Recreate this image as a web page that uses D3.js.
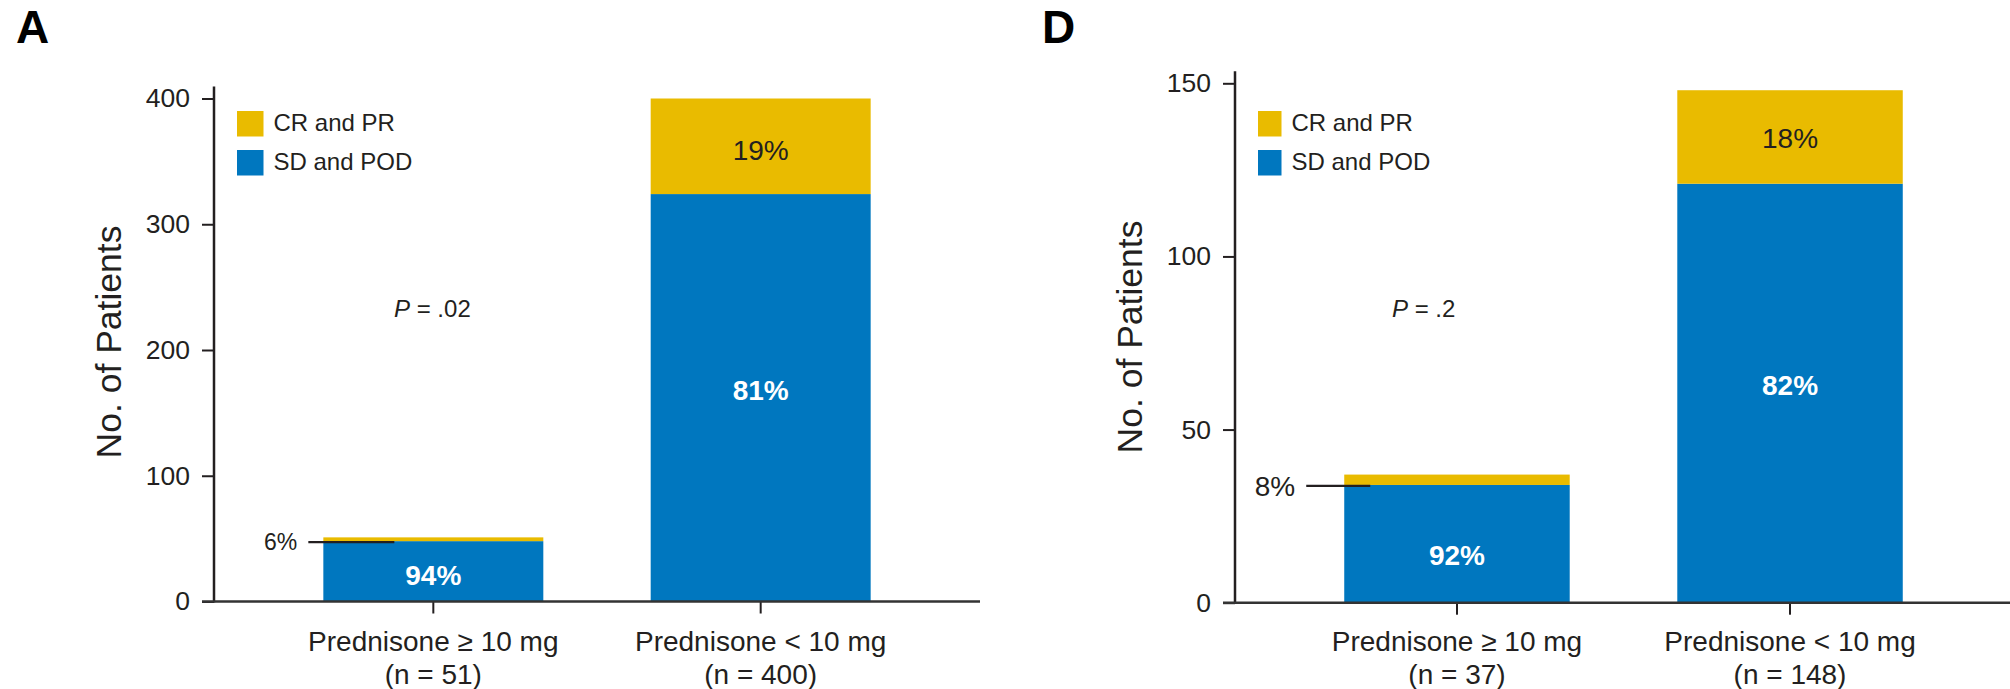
<!DOCTYPE html>
<html>
<head>
<meta charset="utf-8">
<script src="https://cdn.jsdelivr.net/npm/d3@7"></script>
<style>
  body { margin: 0; background: #fff; }
  svg text { font-family: "Liberation Sans", Arial, Helvetica, sans-serif; fill: #231f20; }
</style>
</head>
<body>
<div id="chart"></div>
<script>

// Series names and colors (legend order)
var seriesNames = ["CR and PR", "SD and POD"];
var seriesColors = ["#e9bb00", "#0077bf"];

// Panel A data
var categoriesA = ["Prednisone ≥ 10 mg", "Prednisone < 10 mg"];
var nLabelsA = ["(n = 51)", "(n = 400)"];
var sdpodA = [48, 324];
var crprA = [3, 76];
var pctSdpodA = ["94%", "81%"];
var pctCrprA = ["6%", "19%"];
var ticksA = [0, 100, 200, 300, 400];

// Panel D data
var categoriesD = ["Prednisone ≥ 10 mg", "Prednisone < 10 mg"];
var nLabelsD = ["(n = 37)", "(n = 148)"];
var sdpodD = [34, 121];
var crprD = [3, 27];
var pctSdpodD = ["92%", "82%"];
var pctCrprD = ["8%", "18%"];
var ticksD = [0, 50, 100, 150];


var svg = d3.select("#chart")
            .append("svg")
            .attr("width", 2010)
            .attr("height", 689);


// draws one panel; cfg holds the layout, data comes from the arrays above
function draw_panel(cfg) {

    var g = svg.append("g");

    var y = d3.scaleLinear()
              .domain([0, cfg.ymax])
              .range([cfg.y0, cfg.ytop]);

    var x = d3.scaleBand()
              .domain(cfg.categories)
              .range([cfg.xleft, cfg.xright])
              .paddingInner(cfg.padIn)
              .paddingOuter(cfg.padOut);

    // stacked rows : blue on the bottom, yellow on top
    var rows = cfg.categories.map(function(c, i) {
        return {idx: i, cat: c, sd: cfg.sd[i], cr: cfg.cr[i], psd: cfg.psd[i], pcr: cfg.pcr[i]};
    });
    var stack = d3.stack().keys(["sd", "cr"])(rows);
    var color = d3.scaleOrdinal().domain(["cr", "sd"]).range(seriesColors);

    var layer = g.selectAll("g.layer")
                 .data(stack)
                 .enter()
                 .append("g")
                    .attr("class", "layer")
                    .style("fill", function(d) { return color(d.key); });

    layer.selectAll("rect")
         .data(function(d) { return d; })
         .enter()
         .append("rect")
            .attr("x", function(d) { return x(d.data.cat); })
            .attr("width", x.bandwidth())
            .attr("y", function(d) { return y(d[1]); })
            .attr("height", function(d) { return y(d[0]) - y(d[1]); });

    // percent labels
    stack.forEach(function(s) {
        s.forEach(function(d) {
            var key = s.key;
            var txt = key == "sd" ? d.data.psd : d.data.pcr;
            var top = y(d[1]), bot = y(d[0]);
            var cx = x(d.data.cat) + x.bandwidth() / 2;
            if (bot - top > 40) {
                var off = cfg.labelOff[key][d.data.idx];
                g.append("text")
                    .attr("x", cx)
                    .attr("y", (top + bot) / 2 + 10 + off)
                    .attr("text-anchor", "middle")
                    .style("font-size", "28px")
                    .style("font-weight", key == "sd" ? "bold" : "normal")
                    .style("fill", key == "sd" ? "#ffffff" : "#231f20")
                    .text(txt);
            } else {
                // small segment : label on the left with a leader line
                var bx = x(d.data.cat);
                var ly = bot + 1;
                g.append("line")
                    .attr("x1", bx + cfg.leadL).attr("x2", bx + cfg.leadR)
                    .attr("y1", ly).attr("y2", ly)
                    .attr("stroke", "#231f20")
                    .attr("stroke-width", 2.2);
                g.append("text")
                    .attr("x", bx + cfg.leadL - 11)
                    .attr("y", ly + cfg.smallSize * 0.36)
                    .attr("text-anchor", "end")
                    .style("font-size", cfg.smallSize + "px")
                    .text(txt);
            }
        });
    });

    // y axis
    var yAxis = g.append("g")
                 .attr("transform", "translate(" + cfg.xleft + ",0)")
                 .call(d3.axisLeft(y).tickValues(cfg.ticks).tickSize(12).tickPadding(12).tickSizeOuter(0));
    yAxis.select(".domain").remove();
    yAxis.selectAll("line").attr("stroke", "#231f20").attr("stroke-width", 2);
    yAxis.selectAll("text").style("font-size", "26.5px").style("fill", "#231f20");
    g.append("line")
        .attr("x1", cfg.xleft).attr("x2", cfg.xleft)
        .attr("y1", cfg.ytop - 12).attr("y2", cfg.y0 + 1)
        .attr("stroke", "#231f20").attr("stroke-width", 2.5);

    // x axis
    var xAxis = g.append("g")
                 .attr("transform", "translate(0," + cfg.y0 + ")")
                 .call(d3.axisBottom(x).tickSize(12).tickSizeOuter(0));
    xAxis.select(".domain").remove();
    xAxis.selectAll("text").remove();
    xAxis.selectAll("line").attr("stroke", "#231f20").attr("stroke-width", 2);
    g.append("line")
        .attr("x1", cfg.xleft - 12).attr("x2", cfg.xright)
        .attr("y1", cfg.y0).attr("y2", cfg.y0)
        .attr("stroke", "#333333").attr("stroke-width", 2.5);

    // category labels, two lines
    cfg.categories.forEach(function(c, i) {
        var cx = x(c) + x.bandwidth() / 2;
        g.append("text").attr("x", cx).attr("y", 651)
            .attr("text-anchor", "middle").style("font-size", "28px").text(c);
        g.append("text").attr("x", cx).attr("y", 684)
            .attr("text-anchor", "middle").style("font-size", "28px").text(cfg.nlabels[i]);
    });

    // y axis title
    g.append("text")
        .attr("transform", "translate(" + (cfg.xleft - 93) + "," + cfg.titleY + ") rotate(-90)")
        .attr("text-anchor", "middle")
        .style("font-size", "35.5px")
        .text("No. of Patients");

    // legend
    var leg = g.selectAll("g.legend")
               .data(seriesNames)
               .enter()
               .append("g")
                  .attr("class", "legend")
                  .attr("transform", function(d, i) { return "translate(" + (cfg.xleft + cfg.legX) + "," + (111 + i * 39) + ")"; });
    leg.append("rect")
        .attr("width", cfg.swatch).attr("height", 25.5)
        .style("fill", function(d, i) { return seriesColors[i]; });
    leg.append("text")
        .attr("x", cfg.swatch + 10).attr("y", 20)
        .style("font-size", "24px")
        .text(function(d) { return d; });

    // P value
    var pt = g.append("text").attr("x", cfg.px).attr("y", 317).style("font-size", "24px");
    pt.append("tspan").style("font-style", "italic").text("P");
    pt.append("tspan").text(" = " + cfg.pval);

    // panel letter
    g.append("text")
        .attr("x", cfg.letterX).attr("y", 43)
        .style("font-size", "46px").style("font-weight", "bold")
        .style("fill", "#000")
        .text(cfg.letter);
}


draw_panel({
    letter: "A", letterX: 16,
    categories: categoriesA, nlabels: nLabelsA,
    sd: sdpodA, cr: crprA, psd: pctSdpodA, pcr: pctCrprA,
    ticks: ticksA, ymax: 400,
    y0: 601.5, ytop: 98.5,
    xleft: 214, xright: 980, padIn: 0.328, padOut: 0.334,
    leadL: -15, leadR: 71, smallSize: 23,
    labelOff: {sd: [4, -8], cr: [0, 4]},
    legX: 23, swatch: 26.5,
    titleY: 342, px: 394, pval: ".02"
});

draw_panel({
    letter: "D", letterX: 1042,
    categories: categoriesD, nlabels: nLabelsD,
    sd: sdpodD, cr: crprD, psd: pctSdpodD, pcr: pctCrprD,
    ticks: ticksD, ymax: 150,
    y0: 602.7, ytop: 83.3,
    xleft: 1235, xright: 2012, padIn: 0.323, padOut: 0.328,
    leadL: -38, leadR: 26, smallSize: 28,
    labelOff: {sd: [11, -8], cr: [0, 1]},
    legX: 23, swatch: 23.5,
    titleY: 337, px: 1392, pval: ".2"
});

</script>
</body>
</html>
